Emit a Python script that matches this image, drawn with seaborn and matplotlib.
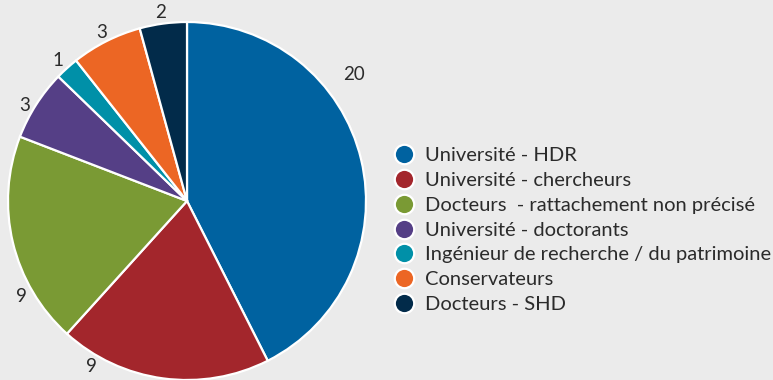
import numpy as np
import matplotlib
matplotlib.use("Agg")
import matplotlib.pyplot as plt
from matplotlib.lines import Line2D
import seaborn as sns

categories = [
    "Université - HDR",
    "Université - chercheurs",
    "Docteurs  - rattachement non précisé",
    "Université - doctorants",
    "Ingénieur de recherche / du patrimoine",
    "Conservateurs",
    "Docteurs - SHD",
]
values = [20, 9, 9, 3, 1, 3, 2]
colors = ["#0062a0", "#a3262c", "#7a9a34", "#553f86", "#0090a8", "#ec6624", "#022b4a"]

BG = "#ebebeb"
TXT = "#2b2b2b"

sns.set_style("white")
plt.rcParams["font.family"] = ["Lato", "DejaVu Sans"]
palette = sns.color_palette(colors)

fig = plt.figure(figsize=(7.73, 3.80), dpi=100, facecolor=BG)
ax = fig.add_axes([8 / 773, 0.0, 358 / 773, 358 / 380])
ax.set_facecolor(BG)

wedges, _ = ax.pie(
    values,
    colors=palette,
    startangle=90,
    counterclock=False,
    radius=1.0,
    wedgeprops=dict(edgecolor="white", linewidth=1.6),
)
ax.set_xlim(-1, 1)
ax.set_ylim(-1, 1)
ax.set_aspect("equal")
ax.axis("off")

# value labels: slice mid-angle, nudged apart where the bottom/right space is tight
label_angles = [37, 240, 210, 149.5, 132.5, 117, 98]
label_dist = [1.17, 1.065, 1.065, 1.055, 1.065, 1.055, 1.065]
for v, a, d in zip(values, label_angles, label_dist):
    t = np.deg2rad(a)
    ax.text(d * np.cos(t), d * np.sin(t), str(v), ha="center", va="center",
            fontsize=13.5, color=TXT, clip_on=False)

handles = [
    Line2D([0], [0], marker="o", linestyle="none", markersize=14,
           markerfacecolor=c, markeredgecolor="white", markeredgewidth=1.6)
    for c in palette
]
fig.legend(
    handles, categories,
    loc="center left", bbox_to_anchor=(394 / 773, 1 - 230 / 380),
    frameon=False, fontsize=14.5, labelcolor=TXT,
    handlelength=1.0, handletextpad=0.55, labelspacing=0.38,
    borderpad=0, borderaxespad=0,
)

fig.savefig("out.png", dpi=100, facecolor=BG)
